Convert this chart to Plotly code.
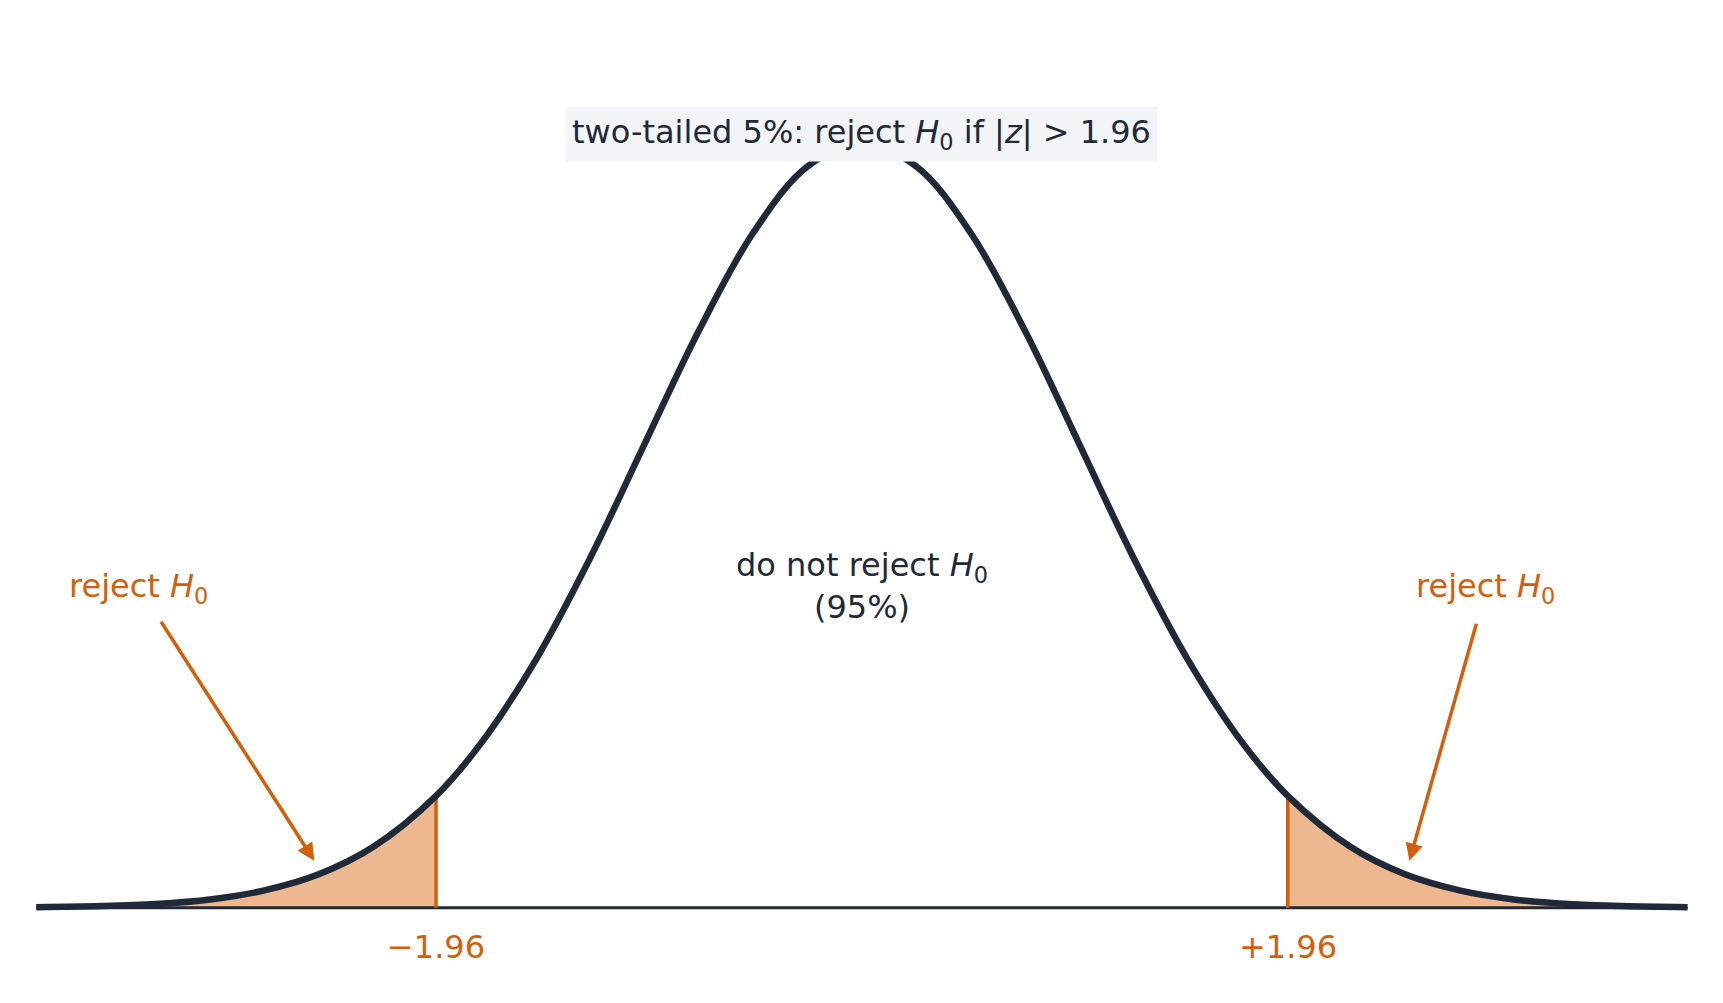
import plotly.graph_objects as go

# standard normal density, values read at z steps
z = [-3.8, -3.5, -3.25, -3.0, -2.75, -2.5, -2.25, -1.96, -1.75, -1.5, -1.25, -1.0, -0.75, -0.5, -0.25, 0.0,
     0.25, 0.5, 0.75, 1.0, 1.25, 1.5, 1.75, 1.96, 2.25, 2.5, 2.75, 3.0, 3.25, 3.5, 3.8]
dens = [0.0003, 0.0009, 0.0020, 0.0044, 0.0091, 0.0175, 0.0317, 0.0584, 0.0863, 0.1295, 0.1826, 0.2420, 0.3011, 0.3521, 0.3867, 0.3989,
        0.3867, 0.3521, 0.3011, 0.2420, 0.1826, 0.1295, 0.0863, 0.0584, 0.0317, 0.0175, 0.0091, 0.0044, 0.0020, 0.0009, 0.0003]
crit = [-1.96, 1.96]
crit_labels = ["\u22121.96", "+1.96"]

ORANGE = "#d35f0a"
DARK = "#1f2937"
FILL = "#edb88f"
FONT = "DejaVu Sans"

left_z = [v for v in z if v <= -1.96]
left_d = dens[:len(left_z)]
right_z = [v for v in z if v >= 1.96]
right_d = dens[len(z) - len(right_z):]

fig = go.Figure()
for tz, td in [(left_z, left_d), (right_z, right_d)]:
    fig.add_trace(go.Scatter(x=tz + tz[::-1], y=td + [0] * len(td), fill="toself", fillcolor=FILL,
                             line=dict(width=0), mode="lines", hoverinfo="skip"))
fig.add_trace(go.Scatter(x=[z[0], z[-1]], y=[0, 0], mode="lines", line=dict(color=DARK, width=3)))
for c, d in zip(crit, [0.0584, 0.0584]):
    fig.add_trace(go.Scatter(x=[c, c], y=[0, d], mode="lines", line=dict(color=ORANGE, width=3.5)))
fig.add_trace(go.Scatter(x=z, y=dens, mode="lines", line=dict(color=DARK, width=6.5, shape="spline")))

for c, lab in zip(crit, crit_labels):
    fig.add_annotation(x=c, y=-0.0205, text=lab, showarrow=False, font=dict(size=32, color=ORANGE))

fig.add_annotation(x=0, y=0.4035, text="two-tailed 5%: reject <i>H</i><sub>0</sub> if |<i>z</i>| &gt; 1.96",
                   showarrow=False, bgcolor="#f3f5f8", borderpad=6, font=dict(size=32, color=DARK))
fig.add_annotation(x=0, y=0.168, text="do not reject <i>H</i><sub>0</sub><br>(95%)", showarrow=False,
                   font=dict(size=32, color=DARK))
for lx, tx, ty, hx, hy in [(-3.33, -3.23, 0.150, -2.52, 0.0245), (2.87, 2.83, 0.149, 2.52, 0.0245)]:
    fig.add_annotation(x=lx, y=0.167, text="reject <i>H</i><sub>0</sub>", showarrow=False,
                       font=dict(size=32, color=ORANGE))
    fig.add_annotation(x=hx, y=hy, ax=tx, ay=ty, axref="x", ayref="y", text="", showarrow=True,
                       arrowhead=2, arrowsize=1, arrowwidth=3.5, arrowcolor=ORANGE)

fig.update_layout(width=1723, height=1003, showlegend=False, plot_bgcolor="white", paper_bgcolor="white",
                  margin=dict(l=0, r=0, t=0, b=0), font=dict(family=FONT),
                  xaxis=dict(range=[-3.93, 4.0], visible=False),
                  yaxis=dict(range=[-0.0538, 0.4693], visible=False))
fig.write_html("out.html")
